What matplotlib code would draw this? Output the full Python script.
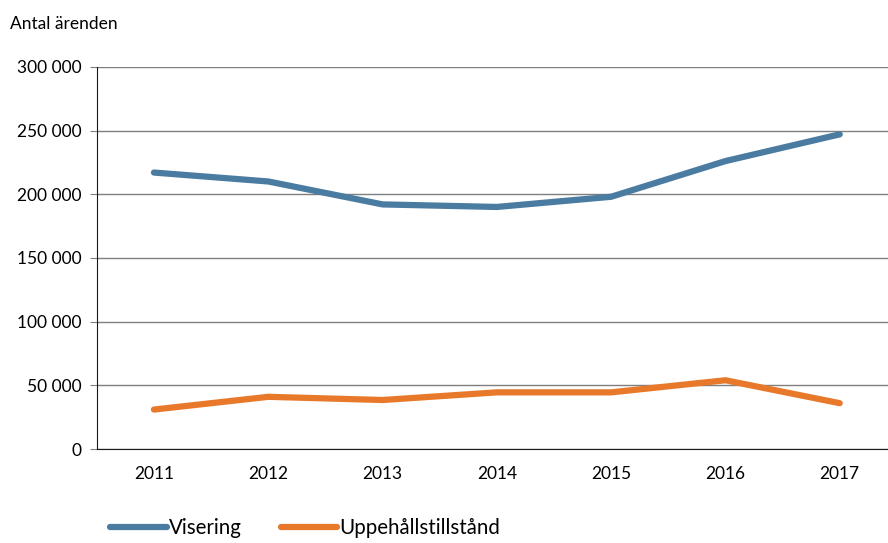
import numpy as np
import matplotlib.pyplot as plt
from matplotlib.ticker import FuncFormatter

plt.rcParams['font.family'] = ['Lato', 'DejaVu Sans']

years = ['2011', '2012', '2013', '2014', '2015', '2016', '2017']
visering = [217000, 210000, 192000, 190000, 198000, 226000, 247000]
uppehall = [31000, 41000, 38500, 44500, 44500, 54000, 36000]

blue = '#4a7ba0'
orange = '#e8792a'

fig = plt.figure(figsize=(8.88, 5.43), dpi=100)
ax = fig.add_axes([0.109, 0.173, 0.901, 0.704])

x = np.arange(len(years))
ax.plot(x, visering, color=blue, lw=4.5, solid_capstyle='round', label='Visering')
ax.plot(x, uppehall, color=orange, lw=4.5, solid_capstyle='round', label='Uppehållstillstånd')

ax.set_xlim(-0.5, len(years) - 0.5)
ax.set_ylim(0, 300000)
ax.set_yticks(np.arange(0, 300001, 50000))
ax.yaxis.set_major_formatter(FuncFormatter(lambda v, p: '{:,}'.format(int(v)).replace(',', ' ')))
ax.set_xticks(x)
ax.set_xticklabels(years)

ax.grid(axis='y', color='#7f7f7f', lw=1)
ax.set_axisbelow(True)
for s in ['top', 'right']:
    ax.spines[s].set_visible(False)
ax.spines['left'].set_color('#1a1a1a')
ax.spines['bottom'].set_color('#1a1a1a')
ax.tick_params(axis='y', length=5, color='#7f7f7f', labelsize=12.5, pad=6)
ax.tick_params(axis='x', length=0, labelsize=12.5, pad=12)

fig.text(0.011, 0.955, 'Antal ärenden', fontsize=12.5, va='center')

# legend sits right at the bottom edge, like the original
fig.legend(loc='center left', bbox_to_anchor=(0.11, 0.028), ncol=2, frameon=False,
           fontsize=14.8, handlelength=2.75, handletextpad=0.1, columnspacing=1.9,
           borderpad=0.1)

fig.savefig('out.png', dpi=100)
